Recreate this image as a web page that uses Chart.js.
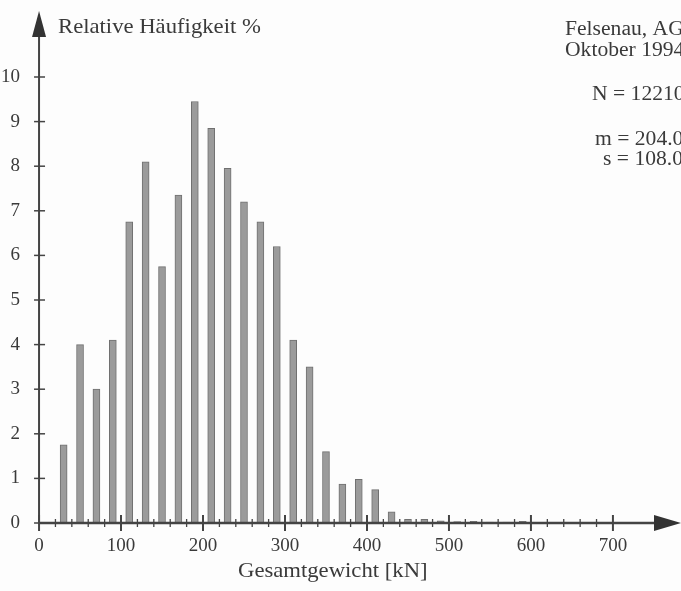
<!DOCTYPE html>
<html>
<head>
<meta charset="utf-8">
<script src="https://cdn.jsdelivr.net/npm/chart.js@4.4.0/dist/chart.umd.min.js"></script>
<style>
  html, body { margin: 0; padding: 0; background: #fdfdfd; }
  #wrap { width: 681px; height: 591px; }
</style>
</head>
<body>
<div id="wrap"><canvas id="hist"></canvas></div>
<script>
// class centres [kN] and relative frequency [%]
const binCenters = [30, 50, 70, 90, 110, 130, 150, 170, 190, 210, 230, 250, 270, 290, 310,
  330, 350, 370, 390, 410, 430, 450, 470, 490, 510, 530, 550, 570, 590];
const shares = [1.75, 4.0, 3.0, 4.1, 6.75, 8.1, 5.75, 7.35, 9.45, 8.85, 7.95, 7.2, 6.75, 6.2, 4.1,
  3.5, 1.6, 0.87, 0.98, 0.75, 0.25, 0.08, 0.08, 0.05, 0.03, 0.04, 0.02, 0.02, 0.04];

const yTickMax = 10;
const xTickMax = 700;
const infoLines = [
  { text: "Felsenau, AG", x: 565, y: 35 },
  { text: "Oktober 1994", x: 565, y: 56 },
  { text: "N = 12210", x: 592, y: 100 },
  { text: "m = 204.0", x: 595, y: 145 },
  { text: "s = 108.0", x: 603, y: 165 },
];

const INK = "#3a3a3a";
const SERIF = "'Liberation Serif', 'DejaVu Serif', serif";

function stretchedText(ctx, str, x, y, size) {
  ctx.save();
  ctx.font = `${size}px ${SERIF}`;
  ctx.fillStyle = INK;
  ctx.textAlign = "left";
  ctx.textBaseline = "alphabetic";
  ctx.translate(x, y);
  ctx.scale(1.08, 1);
  ctx.fillText(str, 0, 0);
  ctx.restore();
}

//axes with arrow heads, crossing tick marks and the free-standing labels
const axisDecor = {
  id: "axisDecor",
  afterDraw(chart) {
    const { ctx, chartArea, scales } = chart;
    const x0 = scales.x.getPixelForValue(0);
    const y0 = scales.y.getPixelForValue(0);
    ctx.save();
    ctx.strokeStyle = "#444";
    ctx.fillStyle = "#333";

    ctx.lineWidth = 2;
    ctx.beginPath();
    ctx.moveTo(x0, y0 + 1);
    ctx.lineTo(x0, chartArea.top + 20);
    ctx.stroke();
    ctx.beginPath();
    ctx.moveTo(x0, chartArea.top + 1);
    ctx.lineTo(x0 - 7, chartArea.top + 27);
    ctx.lineTo(x0 + 7, chartArea.top + 27);
    ctx.closePath();
    ctx.fill();

    ctx.lineWidth = 2.5;
    ctx.beginPath();
    ctx.moveTo(x0 - 1, y0);
    ctx.lineTo(chartArea.right - 20, y0);
    ctx.stroke();
    ctx.beginPath();
    ctx.moveTo(chartArea.right, y0);
    ctx.lineTo(chartArea.right - 27, y0 - 8);
    ctx.lineTo(chartArea.right - 27, y0 + 8);
    ctx.closePath();
    ctx.fill();

    ctx.lineWidth = 1.5;
    scales.y.ticks.forEach((t) => {
      const py = scales.y.getPixelForValue(t.value);
      ctx.beginPath();
      ctx.moveTo(x0 - 5, py);
      ctx.lineTo(x0 + 6, py);
      ctx.stroke();
    });
    scales.x.ticks.forEach((t) => {
      const px = scales.x.getPixelForValue(t.value);
      const len = t.value % 100 === 0 ? 8 : 4;
      ctx.lineWidth = t.value % 100 === 0 ? 2 : 1.3;
      ctx.beginPath();
      ctx.moveTo(px, y0 - len);
      ctx.lineTo(px, y0 + len);
      ctx.stroke();
    });
    ctx.restore();

    stretchedText(ctx, "Relative Häufigkeit %", 58, 33, 21);
    stretchedText(ctx, "Gesamtgewicht [kN]", 238, 577, 21);
    infoLines.forEach((l) => stretchedText(ctx, l.text, l.x, l.y, 20));
  },
};

new Chart(document.getElementById("hist"), {
  type: "bar",
  data: {
    datasets: [
      {
        data: binCenters.map((c, i) => ({ x: c, y: shares[i] })),
        backgroundColor: "#9b9b9b",
        borderColor: "#707070",
        borderWidth: 1,
        barThickness: 7,
      },
    ],
  },
  options: {
    responsive: true,
    maintainAspectRatio: false,
    animation: false,
    layout: { padding: { top: 0, right: 0, left: 0, bottom: 0 } },
    plugins: { legend: { display: false }, tooltip: { enabled: false } },
    scales: {
      x: {
        type: "linear",
        min: 0,
        max: 772,
        grid: { display: false, tickLength: 0 },
        border: { display: false },
        afterFit(scale) { scale.height = 68; },
        afterBuildTicks(scale) {
          scale.ticks = scale.ticks.filter((t) => t.value <= xTickMax);
        },
        ticks: {
          stepSize: 20,
          autoSkip: false,
          maxRotation: 0,
          padding: 12,
          color: INK,
          font: { family: SERIF, size: 19 },
          callback: (v) => (v % 100 === 0 ? v : ""),
        },
      },
      y: {
        min: 0,
        max: 11.5,
        grid: { display: false, tickLength: 0 },
        border: { display: false },
        afterFit(scale) { scale.width = 30; },
        afterBuildTicks(scale) {
          scale.ticks = scale.ticks.filter((t) => t.value <= yTickMax);
        },
        ticks: {
          stepSize: 1,
          padding: 10,
          color: INK,
          font: { family: SERIF, size: 19, lineHeight: 0.01 },
        },
      },
    },
  },
  plugins: [axisDecor],
});
</script>
</body>
</html>
